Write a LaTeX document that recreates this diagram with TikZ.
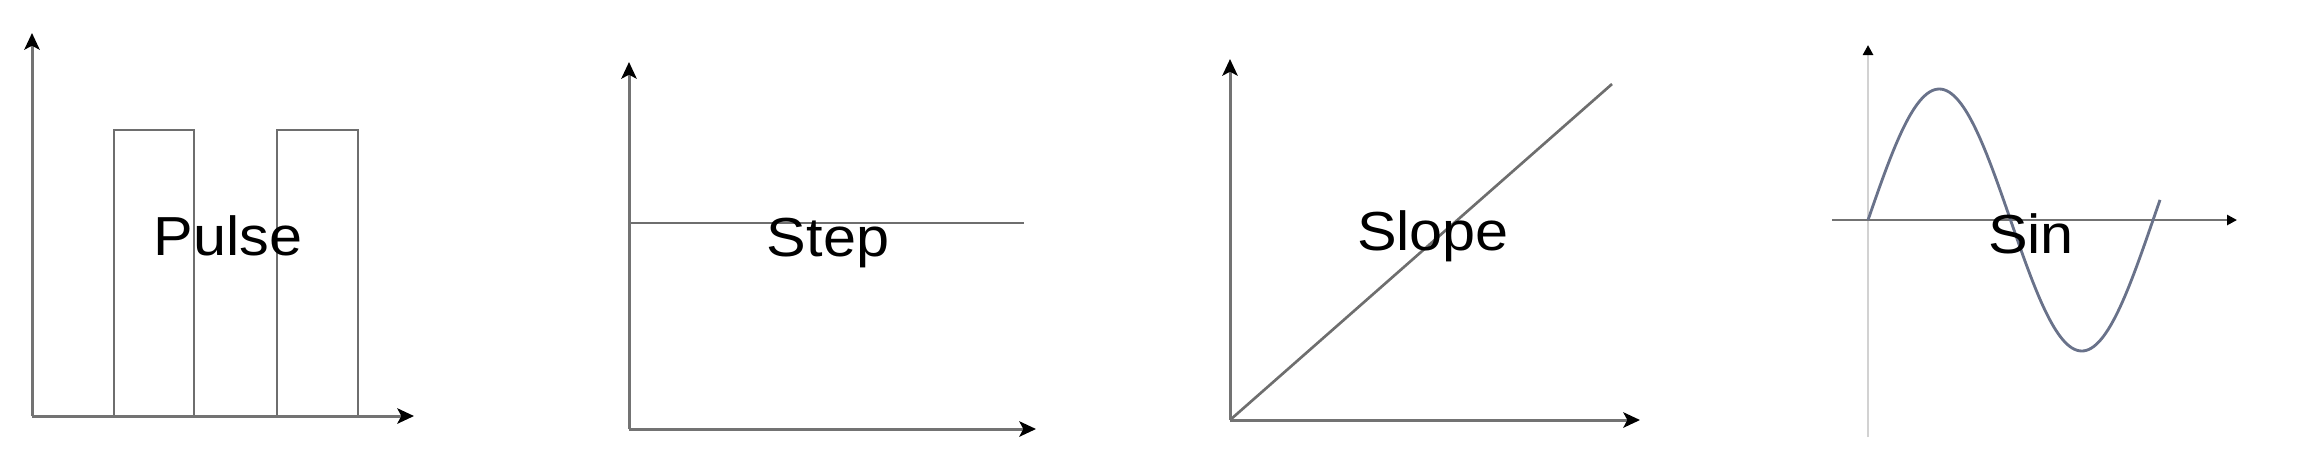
\documentclass[tikz,border=0pt]{standalone}
\usepackage{fontspec}
\setmainfont[FakeStretch=1.08]{Liberation Sans}
\usetikzlibrary{arrows.meta}
\definecolor{axgray}{RGB}{115,115,115}
\definecolor{siggray}{RGB}{110,110,110}
\definecolor{lightax}{RGB}{210,210,210}
\definecolor{sinblue}{RGB}{105,114,138}
\begin{document}
\begin{tikzpicture}[x=0.3pt,y=-0.3pt,
  axis/.style={draw=axgray, line width=0.9pt, -{Stealth[length=5pt,width=4.6pt,inset=1.2pt,black]}},
  smallaxis/.style={line width=0.8pt, -{Triangle[length=3pt,width=3pt,black]}},
  sig/.style={draw=siggray, line width=0.8pt},
  sinc/.style={draw=sinblue, line width=0.85pt},
  lbl/.style={font=\fontsize{16.5pt}{16.5pt}\selectfont, anchor=base, inner sep=0pt, text=black}]
\useasboundingbox (0,0) rectangle (2313,469);
% ---------- Pulse ----------
\coordinate (pO) at (32,416);
\coordinate (pY) at (32,33);
\coordinate (pX) at (414,416);
\draw[sig] (114,416) -- (114,130) -- (194,130) -- (194,416);
\draw[sig] (277,416) -- (277,130) -- (358,130) -- (358,416);
\draw[axis] (pO) -- (pY);
\draw[axis] (pO) -- (pX);
\node[lbl] (pulse) at (228,255) {Pulse};
% ---------- Step ----------
\coordinate (sO) at (629,429);
\coordinate (sY) at (629,62);
\coordinate (sX) at (1036,429);
\coordinate (sA) at (629,223);
\coordinate (sB) at (1024,223);
\draw[sig] (sA) -- (sB);
\draw[axis] (sO) -- (sY);
\draw[axis] (sO) -- (sX);
\node[lbl] (step) at (828,256) {Step};
% ---------- Slope ----------
\coordinate (lO) at (1230,420);
\coordinate (lY) at (1230,59);
\coordinate (lX) at (1640,420);
\coordinate (lE) at (1612,84);
\draw[sig] (lO) -- (lE);
\draw[axis] (lO) -- (lY);
\draw[axis] (lO) -- (lX);
\node[lbl] (slope) at (1433,250) {Slope};
% ---------- Sin ----------
\coordinate (nB) at (1868,437);
\coordinate (nY) at (1868,45);
\coordinate (nL) at (1832,220);
\coordinate (nX) at (2237,220);
\draw[smallaxis, draw=lightax] (nB) -- (nY);
\draw[smallaxis, draw=axgray] (nL) -- (nX);
\draw[sinc] plot[domain=0:292, samples=120, smooth] ({1868+\x},{220-131*sin(1.26316*\x)});
\node[lbl] (sin) at (2031,253) {Sin};
\end{tikzpicture}
\end{document}
